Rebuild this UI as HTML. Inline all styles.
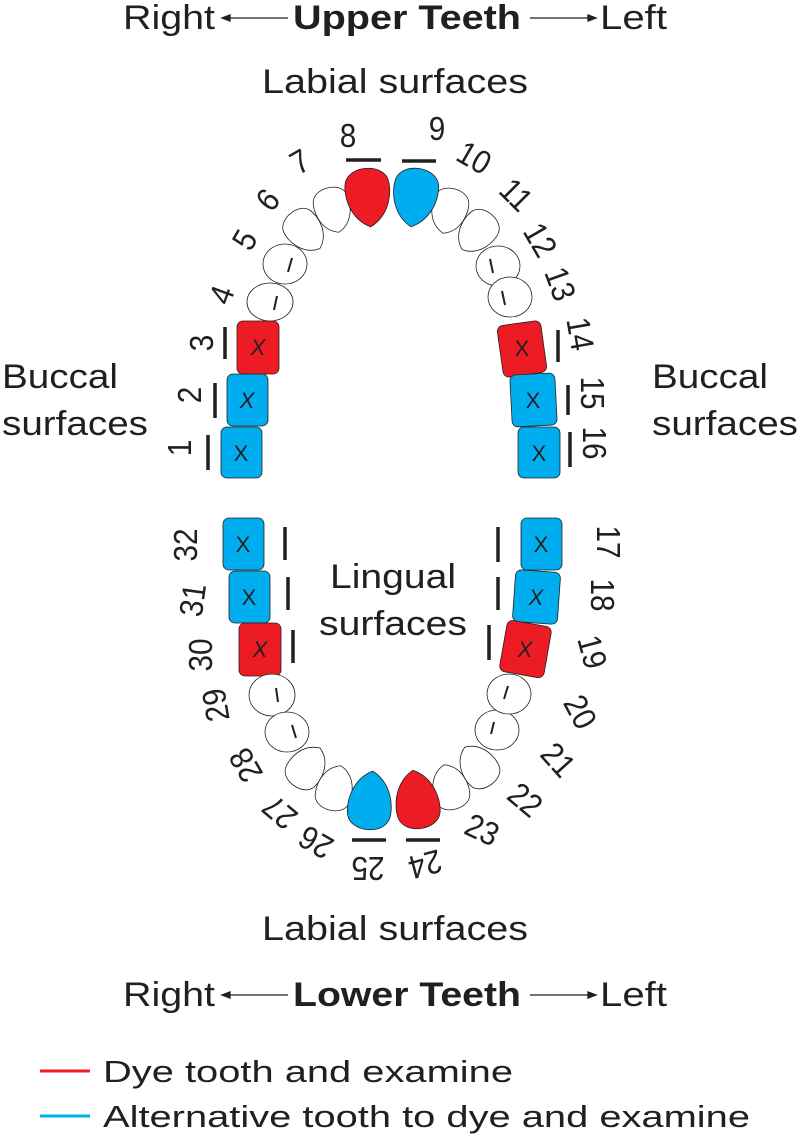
<!DOCTYPE html>
<html><head><meta charset="utf-8"><style>
html,body{margin:0;padding:0;background:#fff;}
svg{display:block;font-family:"Liberation Sans",sans-serif;}
</style></head><body>
<svg width="800" height="1140" viewBox="0 0 800 1140" xmlns="http://www.w3.org/2000/svg">
<defs>
<path id="drop" d="M0,30 C-20,20 -24,-4 -21,-16 C-16,-33 16,-33 21,-16 C24,-4 20,20 0,30 Z"/>
<path id="sdrop" d="M0,23 C-17,17 -20,-3 -17,-13 C-13,-26 13,-26 17,-13 C20,-3 17,17 0,23 Z"/>
</defs>
<g fill="#231f20" font-size="34">
<text x="123" y="29" textLength="92" lengthAdjust="spacingAndGlyphs">Right</text>
<text x="293" y="29" font-weight="bold" textLength="228" lengthAdjust="spacingAndGlyphs">Upper Teeth</text>
<text x="600" y="29" textLength="67" lengthAdjust="spacingAndGlyphs">Left</text>
<text x="262" y="93" textLength="266" lengthAdjust="spacingAndGlyphs">Labial surfaces</text>
<text x="2" y="388" textLength="116" lengthAdjust="spacingAndGlyphs">Buccal</text>
<text x="2" y="435" textLength="146" lengthAdjust="spacingAndGlyphs">surfaces</text>
<text x="652" y="388" textLength="116" lengthAdjust="spacingAndGlyphs">Buccal</text>
<text x="652" y="435" textLength="146" lengthAdjust="spacingAndGlyphs">surfaces</text>
<text x="330" y="588" textLength="126" lengthAdjust="spacingAndGlyphs">Lingual</text>
<text x="319" y="635" textLength="148" lengthAdjust="spacingAndGlyphs">surfaces</text>
<text x="262" y="940" textLength="266" lengthAdjust="spacingAndGlyphs">Labial surfaces</text>
<text x="123" y="1006" textLength="92" lengthAdjust="spacingAndGlyphs">Right</text>
<text x="293" y="1006" font-weight="bold" textLength="228" lengthAdjust="spacingAndGlyphs">Lower Teeth</text>
<text x="600" y="1006" textLength="67" lengthAdjust="spacingAndGlyphs">Left</text>
</g>
<g stroke="#231f20" stroke-width="1.3" fill="#231f20">
<line x1="226" y1="18" x2="288" y2="18"/><path d="M222,18 l8,-3 v6 z"/>
<line x1="530" y1="18" x2="592" y2="18"/><path d="M596,18 l-8,-3 v6 z"/>
<line x1="226" y1="995" x2="288" y2="995"/><path d="M222,995 l8,-3 v6 z"/>
<line x1="530" y1="995" x2="592" y2="995"/><path d="M596,995 l-8,-3 v6 z"/>
</g>
<line x1="40" y1="1071" x2="90" y2="1071" stroke="#ed1c24" stroke-width="3"/>
<line x1="40" y1="1116" x2="90" y2="1116" stroke="#00aeef" stroke-width="3"/>
<g fill="#231f20" font-size="31">
<text x="103" y="1082" textLength="410" lengthAdjust="spacingAndGlyphs">Dye tooth and examine</text>
<text x="103" y="1127" textLength="647" lengthAdjust="spacingAndGlyphs">Alternative tooth to dye and examine</text>
</g>
<g stroke="#231f20" stroke-width="0.8">
<rect x="221" y="427" width="41" height="51" rx="6" fill="#00aeef"/>
<rect x="227" y="374" width="41" height="52" rx="6" fill="#00aeef"/>
<rect x="237" y="321" width="42" height="53" rx="6" fill="#ed1c24"/>
<ellipse cx="270" cy="302" rx="23" ry="19" fill="#fff"/>
<ellipse cx="285" cy="264" rx="22" ry="20" fill="#fff"/>
<use href="#sdrop" transform="translate(305,231) rotate(-40)" fill="#fff"/>
<use href="#sdrop" transform="translate(333,210) rotate(-15)" fill="#fff"/>
<use href="#sdrop" transform="translate(449,211) rotate(15)" fill="#fff"/>
<use href="#sdrop" transform="translate(477,232) rotate(40)" fill="#fff"/>
<use href="#drop" transform="translate(368,197) rotate(-5) scale(1.02,1)" fill="#ed1c24"/>
<use href="#drop" transform="translate(415,197) rotate(8) scale(1.02,1)" fill="#00aeef"/>
<ellipse cx="498" cy="266" rx="22" ry="20" fill="#fff"/>
<ellipse cx="510" cy="297" rx="22" ry="20" fill="#fff"/>
<rect x="500" y="323" width="44" height="52" rx="6" fill="#ed1c24" transform="rotate(-8 522 349)"/>
<rect x="511" y="374" width="45" height="52" rx="6" fill="#00aeef" transform="rotate(-3 533 400)"/>
<rect x="518" y="427" width="42" height="51" rx="6" fill="#00aeef"/>
<rect x="223" y="518" width="41" height="52" rx="6" fill="#00aeef"/>
<rect x="229" y="571" width="41" height="52" rx="6" fill="#00aeef"/>
<rect x="239" y="623" width="42" height="53" rx="6" fill="#ed1c24"/>
<ellipse cx="272" cy="695" rx="23" ry="21" fill="#fff"/>
<ellipse cx="287" cy="732" rx="22" ry="20" fill="#fff"/>
<use href="#sdrop" transform="translate(307,767) rotate(215)" fill="#fff"/>
<use href="#sdrop" transform="translate(335,788) rotate(195)" fill="#fff"/>
<use href="#sdrop" transform="translate(450,787) rotate(165)" fill="#fff"/>
<use href="#sdrop" transform="translate(478,766) rotate(145)" fill="#fff"/>
<use href="#drop" transform="translate(370,801) rotate(185)" fill="#00aeef"/>
<use href="#drop" transform="translate(417,800) rotate(172)" fill="#ed1c24"/>
<ellipse cx="497" cy="730" rx="22" ry="20" fill="#fff"/>
<ellipse cx="509" cy="694" rx="22" ry="20" fill="#fff"/>
<rect x="521" y="518" width="41" height="52" rx="6" fill="#00aeef"/>
<rect x="514" y="571" width="45" height="52" rx="6" fill="#00aeef" transform="rotate(4 536 597)"/>
<rect x="503" y="623" width="45" height="52" rx="6" fill="#ed1c24" transform="rotate(10 525 649)"/>
</g>
<g fill="#231f20" font-size="22" text-anchor="middle">
<text x="241" y="461">X</text><text x="247" y="408" font-style="italic">X</text><text x="258" y="355" font-style="italic">X</text>
<text x="522" y="356">X</text><text x="533" y="408">X</text><text x="539" y="461">X</text>
<text x="243" y="552">X</text><text x="249" y="605">X</text><text x="260" y="657" font-style="italic">X</text>
<text x="541" y="552">X</text><text x="536" y="605" font-style="italic">X</text><text x="525" y="657" font-style="italic">X</text>
</g>
<g stroke="#231f20" stroke-width="2">
<line x1="277" y1="296" x2="274" y2="310"/><line x1="292" y1="258" x2="288" y2="272"/>
<line x1="490" y1="259" x2="493" y2="273"/><line x1="502" y1="291" x2="505" y2="305"/>
<line x1="276" y1="688" x2="278" y2="702"/><line x1="292" y1="725" x2="296" y2="738"/>
<line x1="508" y1="686" x2="504" y2="699"/><line x1="494" y1="722" x2="491" y2="734"/>
</g>
<g stroke="#231f20" stroke-width="3.5">
<line x1="346" y1="160" x2="381" y2="160"/><line x1="402" y1="161" x2="436" y2="161"/>
<line x1="208" y1="435" x2="208" y2="470"/><line x1="215" y1="383" x2="215" y2="418"/><line x1="225" y1="327" x2="225" y2="359"/>
<line x1="558" y1="330" x2="558" y2="362"/><line x1="568" y1="385" x2="568" y2="415"/><line x1="570" y1="432" x2="570" y2="467"/>
<line x1="285" y1="527" x2="285" y2="560"/><line x1="288" y1="577" x2="288" y2="610"/><line x1="293" y1="630" x2="293" y2="663"/>
<line x1="498" y1="527" x2="498" y2="562"/><line x1="498" y1="577" x2="498" y2="610"/><line x1="489" y1="625" x2="489" y2="660"/>
<line x1="352" y1="840" x2="386" y2="840"/><line x1="406" y1="840" x2="440" y2="840"/>
</g>
<g fill="#231f20" font-size="33" text-anchor="middle" dominant-baseline="central">
<text transform="translate(348,136) scale(0.9,1)">8</text>
<text transform="translate(437,129) scale(0.9,1)">9</text>
<text transform="translate(474,158) rotate(30) scale(0.9,1)">10</text>
<text transform="translate(516,195) rotate(45) scale(0.9,1)">11</text>
<text transform="translate(540,240) rotate(60) scale(0.9,1)">12</text>
<text transform="translate(560,284) rotate(70) scale(0.9,1)">13</text>
<text transform="translate(580,334) rotate(80) scale(0.9,1)">14</text>
<text transform="translate(592,393) rotate(90) scale(0.9,1)">15</text>
<text transform="translate(594,443) rotate(90) scale(0.9,1)">16</text>
<text transform="translate(300,162) rotate(-30) scale(0.9,1)">7</text>
<text transform="translate(268,200) rotate(-50) scale(0.9,1)">6</text>
<text transform="translate(245,240) rotate(-60) scale(0.9,1)">5</text>
<text transform="translate(222,295) rotate(-70) scale(0.9,1)">4</text>
<text transform="translate(202,343) rotate(-90) scale(0.9,1)">3</text>
<text transform="translate(190,395) rotate(-90) scale(0.9,1)">2</text>
<text transform="translate(180,448) rotate(-90) scale(0.9,1)">1</text>
<text transform="translate(608,542) rotate(90) scale(0.9,1)">17</text>
<text transform="translate(602,595) rotate(90) scale(0.9,1)">18</text>
<text transform="translate(592,652) rotate(75) scale(0.9,1)">19</text>
<text transform="translate(580,712) rotate(62) scale(0.9,1)">20</text>
<text transform="translate(558,760) rotate(48) scale(0.9,1)">21</text>
<text transform="translate(525,800) rotate(40) scale(0.9,1)">22</text>
<text transform="translate(482,830) rotate(25) scale(0.9,1)">23</text>
<text transform="translate(425,864) rotate(165) scale(0.9,1)">24</text>
<text transform="translate(368,868) rotate(180) scale(0.9,1)">25</text>
<text transform="translate(316,842) rotate(-150) scale(0.9,1)">26</text>
<text transform="translate(280,812) rotate(-140) scale(0.9,1)">27</text>
<text transform="translate(246,765) rotate(-120) scale(0.9,1)">28</text>
<text transform="translate(216,705) rotate(-100) scale(0.9,1)">29</text>
<text transform="translate(201,655) rotate(-90) scale(0.9,1)">30</text>
<text transform="translate(193,600) rotate(-82) scale(0.9,1)">31</text>
<text transform="translate(186,545) rotate(-90) scale(0.9,1)">32</text>
</g>
</svg>
</body></html>
